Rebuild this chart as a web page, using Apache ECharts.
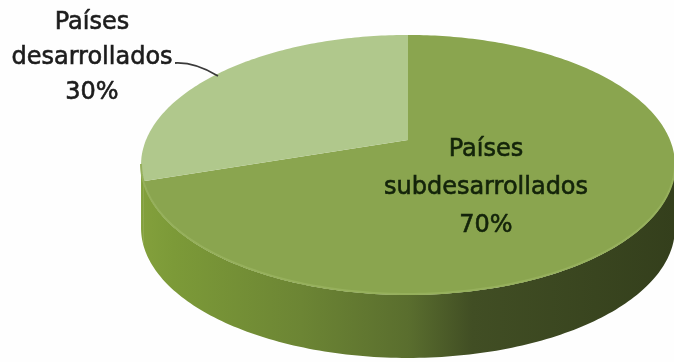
<!DOCTYPE html>
<html><head><meta charset="utf-8">
<style>html,body{margin:0;padding:0;background:#fefefe}#c{width:674px;height:362px}</style>
<script src="https://cdn.jsdelivr.net/npm/echarts@6/dist/echarts.min.js"></script>
</head><body><div id="c"></div>
<script>
const categories = ["Países subdesarrollados", "Países desarrollados"];
const shares = [70, 30];
const topColors = ["#8aa54f", "#b0c88c"];

// projection of the pie disc
const CX = 408, CY = 140, RX = 262, RY = 125.2, K = 0.192, DEPTH = 63;
const total = shares.reduce((a, b) => a + b, 0);
const rim = (deg, dy) => {
  const t = deg * Math.PI / 180, u = Math.sin(t), v = Math.cos(t), d = 1 + K * v;
  return [CX + RX * u / d, CY - RY * v / d + (dy || 0)];
};
const arc = (a, b, dy) => {
  const pts = [], n = Math.max(2, Math.ceil(Math.abs(b - a)));
  for (let i = 0; i <= n; i++) pts.push(rim(a + (b - a) * i / n, dy));
  return pts;
};
const FRONT_A = Math.acos(-K) * 180 / Math.PI, FRONT_B = 360 - FRONT_A;
const wallFill = {
  type: 'linear', x: 141, y: 0, x2: 675, y2: 0, global: true,
  colorStops: [
    { offset: 0, color: '#83a03c' }, { offset: 0.06, color: '#7c9a38' },
    { offset: 0.3, color: '#6c8534' }, { offset: 0.5, color: '#5a6e2e' },
    { offset: 0.62, color: '#414e24' }, { offset: 1, color: '#343f1c' }
  ]
};
const labelStyles = [
  { x: 486, y: 188, lineHeight: 38, fill: '#13230a' },
  { x: 92, y: 58, lineHeight: 35, fill: '#1c1c1c' }
];
const leader = { x1: 175, y1: 63, cpx1: 195, cpy1: 62, x2: 218, y2: 76 };

function renderItem(params, api) {
  const i = params.dataIndex;
  let acc = 0;
  for (let k = 0; k < i; k++) acc += shares[k];
  const a = acc / total * 360, b = (acc + api.value(0)) / total * 360;
  const children = [];
  const wa = Math.max(a, FRONT_A), wb = Math.min(b, FRONT_B);
  if (wb > wa) {
    children.push({
      type: 'polygon', z2: 1,
      shape: { points: arc(wa, wb, 0).concat(arc(wb, wa, DEPTH)) },
      style: { fill: wallFill }
    });
    children.push({
      type: 'polyline', z2: 3,
      shape: { points: arc(wa, wb, -1) },
      style: { stroke: '#96b05c', lineWidth: 2, fill: null }
    });
  }
  children.push({
    type: 'polygon', z2: 2,
    shape: { points: [[CX, CY]].concat(arc(a, b, 0)) },
    style: { fill: topColors[i] }
  });
  const s = labelStyles[i];
  children.push({
    type: 'text', z2: 5,
    style: {
      x: s.x, y: s.y, text: categories[i].replace(' ', '\n') + '\n' + api.value(0) + '%',
      fill: s.fill, font: '24px "DejaVu Sans"', lineHeight: s.lineHeight,
      stroke: s.fill, lineWidth: 0.6,
      align: 'center', verticalAlign: 'middle'
    }
  });
  if (i === 1) {
    children.push({
      type: 'bezierCurve', z2: 5, shape: leader,
      style: { stroke: '#3a3a3a', lineWidth: 1.8, fill: null }
    });
  }
  return { type: 'group', children };
}

const chart = echarts.init(document.getElementById('c'), null, { renderer: 'canvas' });
chart.setOption({
  animation: false,
  backgroundColor: '#fefefe',
  series: [{
    type: 'custom',
    coordinateSystem: 'none',
    renderItem,
    data: shares.map((v, i) => ({ name: categories[i], value: [v] }))
  }]
});
</script></body></html>
